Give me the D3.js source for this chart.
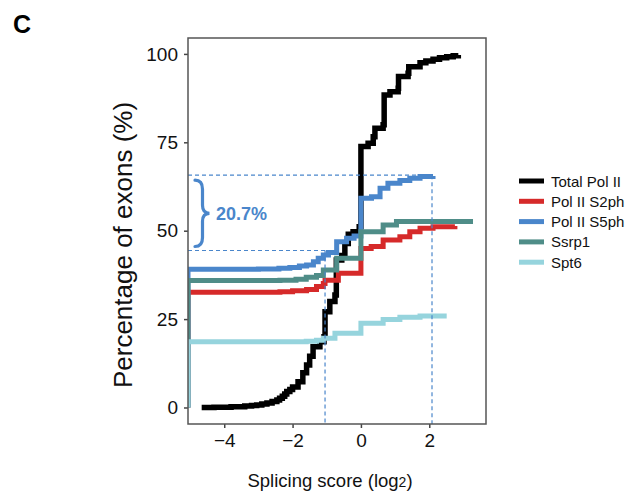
<!DOCTYPE html>
<html>
<head>
<meta charset="utf-8">
<script src="https://cdn.jsdelivr.net/npm/d3@7"></script>
<style>
  html, body { margin: 0; padding: 0; background: #fff; }
  svg { display: block; font-family: "Liberation Sans", Arial, sans-serif; }
</style>
</head>
<body>
<svg id="chart" width="634" height="495"></svg>
<script>
// ---------------- data ----------------
const seriesNames = ["Total Pol II", "Pol II S2ph", "Pol II S5ph", "Ssrp1", "Spt6"];
const seriesColors = ["#000000", "#d62a2a", "#4a86cb", "#4f8d88", "#96d4dd"];

// cumulative distributions: [splicing score (log2), percentage of exons]
const totalPolII = [[-4.66,0],[-4.3,0.05],[-3.8,0.2],[-3.4,0.4],[-3.2,0.55],[-3.05,0.7],[-2.9,1.0],[-2.75,1.3],
  [-2.6,1.7],[-2.46,2.1],[-2.38,2.6],[-2.3,3.2],[-2.23,3.8],[-2.17,4.5],[-2.08,5.1],[-2.0,5.8],[-1.84,7.3],
  [-1.70,9.8],[-1.59,12],[-1.5,14.5],[-1.40,17.2],[-1.2,18.6],[-1.08,20],[-1.05,27.1],
  [-0.91,30],[-0.76,31.8],[-0.72,41.7],[-0.56,43],[-0.47,46.4],[-0.37,49],[-0.23,49.7],[-0.05,51.1],[0.0,73.8],
  [0.21,74.7],[0.36,76.6],[0.41,79],[0.65,80],[0.68,88.4],[0.85,89.3],[1.09,90.3],[1.1,93.6],[1.38,94.5],
  [1.4,96.4],[1.73,97.5],[1.9,98.0],[2.11,98.5],[2.3,98.9],[2.51,99.2],[2.7,99.5],[2.85,99.7]];
const polIIS2ph = [[-5.06,0],[-5.06,32.6],[-2.37,32.7],[-2.0,33.0],[-1.59,33.4],[-1.30,34.2],[-1.10,35.1],
  [-1.05,36.0],[-0.66,38.0],[0.0,45.0],[0.3,45.5],[0.65,47.4],[1.14,48.3],[1.43,49.7],[1.73,50.7],[2.11,51.1],[2.75,51.3]];
const polIIS5ph = [[-5.06,0],[-5.06,39.1],[-3.0,39.2],[-2.4,39.4],[-2.08,39.6],[-1.8,40.0],[-1.59,40.3],[-1.39,41.2],
  [-1.25,42.2],[-1.10,43.1],[-0.95,43.8],[-0.71,46.9],[-0.42,47.9],[-0.2,48.5],[0.0,59.2],[0.31,59.6],[0.56,62.0],
  [0.79,63.4],[1.14,64.2],[1.43,64.8],[1.73,65.3],[2.11,65.5]];
const ssrp1 = [[-5.06,0],[-5.06,35.9],[-2.37,36.0],[-1.9,36.3],[-1.6,36.8],[-1.3,37.3],[-1.1,38.9],[-0.71,42.2],
  [0.0,49.7],[0.65,51.6],[1.04,52.6],[3.28,52.6]];
const spt6 = [[-5.06,0],[-5.06,18.6],[-1.6,18.7],[-1.3,19.0],[-1.1,19.6],[-0.76,21.0],[0.0,23.8],[0.65,24.9],
  [1.14,25.5],[1.73,25.9],[2.51,25.9]];
const seriesValues = [totalPolII, polIIS2ph, polIIS5ph, ssrp1, spt6];

const xTicks = [-4, -2, 0, 2];
const yTicks = [0, 25, 50, 75, 100];

// annotation: thresholds of Pol II S5ph
const markX = [-1.05, 2.08];
const markY = [44.4, 65.7];
const annotationText = "20.7%";

// ---------------- layout ----------------
const svg = d3.select("#chart");
const pLeft = 188, pRight = 486, pTop = 38, pBottom = 424;

const x = d3.scaleLinear().domain([-5.06, 3.66]).range([pLeft, pRight]);
const y = d3.scaleLinear().domain([-4.67, 104.5]).range([pBottom, pTop]);

svg.append("defs").append("clipPath").attr("id", "clip")
  .append("rect").attr("x", pLeft).attr("y", pTop).attr("width", pRight - pLeft).attr("height", pBottom - pTop);

// panel label
svg.append("text").attr("x", 13).attr("y", 33).attr("font-size", 25).attr("font-weight", "bold").text("C");

// axes
const yAxis = svg.append("g").attr("transform", `translate(${pLeft},0)`)
  .call(d3.axisLeft(y).tickValues(yTicks).tickSize(4).tickSizeOuter(0).tickPadding(6));
const xAxis = svg.append("g").attr("transform", `translate(0,${pBottom})`)
  .call(d3.axisBottom(x).tickValues(xTicks).tickSize(4).tickSizeOuter(0).tickPadding(6)
    .tickFormat(d => d < 0 ? "\u2212" + Math.abs(d) : String(d)));
[xAxis, yAxis].forEach(g => {
  g.select(".domain").remove();
  g.selectAll(".tick line").attr("stroke", "#444").attr("stroke-width", 1.5);
  g.selectAll(".tick text").attr("font-size", 19).attr("fill", "#111")
    .attr("font-family", "'Liberation Sans', Arial, sans-serif");
});

// curves
const line = d3.line().x(d => x(d[0])).y(d => y(d[1])).curve(d3.curveStepAfter);
const plot = svg.append("g").attr("clip-path", "url(#clip)");
seriesValues.forEach((vals, i) => {
  plot.append("path").datum(vals)
    .attr("d", line)
    .attr("fill", "none")
    .attr("stroke", seriesColors[i])
    .attr("stroke-width", i === 0 ? 5.5 : 5)
    .attr("stroke-linejoin", "miter");
});

// dashed guide lines
const dashColor = "#4a86cb";
const guides = plot.append("g").attr("stroke", dashColor).attr("stroke-width", 1.2)
  .attr("stroke-dasharray", "4,3").attr("fill", "none");
markX.forEach((mx, i) => {
  guides.append("line").attr("x1", x.range()[0]).attr("x2", x(mx)).attr("y1", y(markY[i])).attr("y2", y(markY[i]));
  guides.append("line").attr("x1", x(mx)).attr("x2", x(mx)).attr("y1", y(markY[i])).attr("y2", pBottom);
});

// brace
const yTop = y(markY[1]) + 5, yBot = y(markY[0]) - 4, yMid = (yTop + yBot) / 2;
const bx0 = 195, bx1 = 202.5, bx2 = 209.5;
svg.append("path")
  .attr("d", `M${bx0},${yTop} Q${bx1},${yTop} ${bx1},${yTop + 9} L${bx1},${yMid - 8} Q${bx1},${yMid} ${bx2},${yMid}
              Q${bx1},${yMid} ${bx1},${yMid + 8} L${bx1},${yBot - 9} Q${bx1},${yBot} ${bx0},${yBot}`)
  .attr("fill", "none").attr("stroke", dashColor).attr("stroke-width", 3.2).attr("stroke-linecap", "round");
svg.append("text").attr("x", 216).attr("y", yMid + 7).attr("font-size", 18).attr("font-weight", "bold")
  .attr("fill", dashColor).text(annotationText);

// frame
svg.append("rect").attr("x", pLeft).attr("y", pTop).attr("width", pRight - pLeft).attr("height", pBottom - pTop)
  .attr("fill", "none").attr("stroke", "#555").attr("stroke-width", 1.5);

// axis titles
svg.append("text").attr("transform", `translate(132,245) rotate(-90)`).attr("text-anchor", "middle")
  .attr("font-size", 26).attr("fill", "#111").text("Percentage of exons (%)");
const xt = svg.append("text").attr("x", 330).attr("y", 487).attr("text-anchor", "middle")
  .attr("font-size", 18.5).attr("fill", "#111");
xt.append("tspan").text("Splicing score (log");
xt.append("tspan").attr("font-size", 14).text("2");
xt.append("tspan").text(")");

// legend
const legend = svg.append("g");
seriesNames.forEach((name, i) => {
  const ly = 181 + i * 20.3;
  legend.append("line").attr("x1", 519).attr("x2", 544).attr("y1", ly).attr("y2", ly)
    .attr("stroke", seriesColors[i]).attr("stroke-width", 5);
  legend.append("text").attr("x", 551).attr("y", ly + 5.5).attr("font-size", 15).attr("fill", "#111").text(name);
});
</script>
</body>
</html>
